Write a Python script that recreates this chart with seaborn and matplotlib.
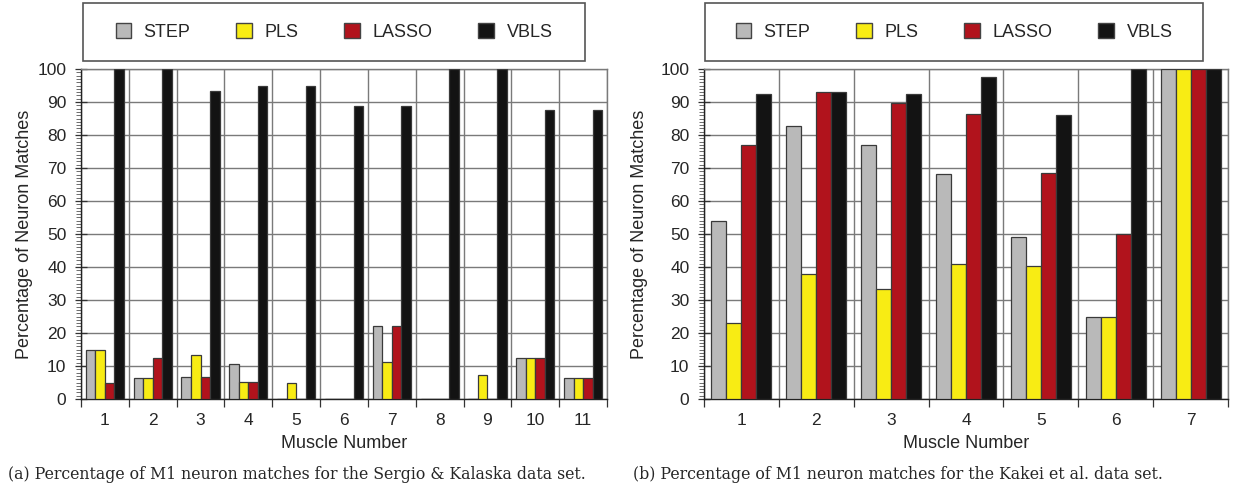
import numpy as np
import pandas as pd
import matplotlib
matplotlib.use("Agg")
import matplotlib.pyplot as plt
import seaborn as sns
from matplotlib.patches import Rectangle, Patch
from matplotlib.ticker import MultipleLocator, FixedLocator

# ---------------- data ----------------
methods = ["STEP", "PLS", "LASSO", "VBLS"]
colors = ["#b9b9b9", "#f8ec14", "#b1131c", "#131313"]

sk_muscles = ["1", "2", "3", "4", "5", "6", "7", "8", "9", "10", "11"]
sk_step = [15.0, 6.25, 6.67, 10.53, 0.0, 0.0, 22.22, 0.0, 0.0, 12.5, 6.25]
sk_pls = [15.0, 6.25, 13.33, 5.26, 5.0, 0.0, 11.11, 0.0, 7.14, 12.5, 6.25]
sk_lasso = [5.0, 12.5, 6.67, 5.26, 0.0, 0.0, 22.22, 0.0, 0.0, 12.5, 6.25]
sk_vbls = [100.0, 100.0, 93.33, 94.74, 95.0, 88.89, 88.89, 100.0, 100.0, 87.5, 87.5]

kk_muscles = ["1", "2", "3", "4", "5", "6", "7"]
kk_step = [53.8, 82.7, 76.9, 68.2, 49.1, 25.0, 100.0]
kk_pls = [23.1, 37.9, 33.3, 40.9, 40.4, 25.0, 100.0]
kk_lasso = [76.9, 93.1, 89.7, 86.4, 68.4, 50.0, 100.0]
kk_vbls = [92.3, 93.1, 92.3, 97.7, 86.0, 100.0, 100.0]

caption_a = "(a) Percentage of M1 neuron matches for the Sergio & Kalaska data set."
caption_b = "(b) Percentage of M1 neuron matches for the Kakei et al. data set."
ylabel = "Percentage of Neuron Matches"
xlabel = "Muscle Number"


def long_df(muscles, step, pls, lasso, vbls):
    rows = []
    for vals, m in zip([step, pls, lasso, vbls], methods):
        for mu, v in zip(muscles, vals):
            rows.append({"muscle": mu, "method": m, "pct": v})
    return pd.DataFrame(rows)


df_a = long_df(sk_muscles, sk_step, sk_pls, sk_lasso, sk_vbls)
df_b = long_df(kk_muscles, kk_step, kk_pls, kk_lasso, kk_vbls)

# ---------------- style ----------------
sns.set_style("white")
plt.rcParams["font.family"] = ["Liberation Sans", "DejaVu Sans"]

W, H = 1234, 488
fig = plt.figure(figsize=(W / 100, H / 100), dpi=100)


def fx(px):
    return px / W


def fy(py):
    return 1 - py / H


def make_panel(df, muscles, left_px, right_px, legend_box, ylab_x_px, caption, cap_x_px):
    top_px, bot_px = 69, 399
    ax = fig.add_axes([fx(left_px), fy(bot_px), (right_px - left_px) / W, (bot_px - top_px) / H])
    sns.barplot(data=df, x="muscle", y="pct", hue="method", order=muscles,
                hue_order=methods, palette=colors, saturation=1, width=0.8,
                edgecolor="#3a3a3a", linewidth=0.9, legend=False, ax=ax, zorder=3)
    n = len(muscles)
    ax.set_xlim(-0.5, n - 0.5)
    ax.set_ylim(0, 100)

    # y ticks
    ax.yaxis.set_major_locator(MultipleLocator(10))
    ax.yaxis.set_minor_locator(MultipleLocator(1))
    ax.tick_params(axis="y", which="major", direction="inout", length=9, width=0.9,
                   labelsize=12.5, pad=6, color="#333333", left=True)
    ax.tick_params(axis="y", which="minor", direction="out", length=3.5, width=0.6,
                   color="#555555", left=True)
    # x ticks: labels at centers, tick marks at boundaries
    ax.set_xticks(range(n))
    ax.set_xticklabels(muscles)
    ax.xaxis.set_minor_locator(FixedLocator(np.arange(-0.5, n, 1.0)))
    ax.tick_params(axis="x", which="major", length=0, labelsize=12.5, pad=10)
    ax.tick_params(axis="x", which="minor", direction="out", length=6, width=0.9,
                   color="#333333", bottom=True)

    ax.grid(True, axis="y", which="major", color="#7a7a7a", linewidth=1.0, zorder=0)
    ax.grid(True, axis="x", which="minor", color="#7a7a7a", linewidth=1.0, zorder=0)
    ax.grid(False, axis="y", which="minor")
    ax.set_axisbelow(True)

    for s in ["top", "right"]:
        ax.spines[s].set_color("#7a7a7a")
        ax.spines[s].set_linewidth(1.0)
    for s in ["left", "bottom"]:
        ax.spines[s].set_color("#222222")
        ax.spines[s].set_linewidth(1.0)

    ax.set_ylabel(ylabel, fontsize=13)
    ax.yaxis.set_label_coords((ylab_x_px - left_px) / (right_px - left_px), 0.5)
    ax.set_xlabel(xlabel, fontsize=13)
    ax.xaxis.set_label_coords(0.5, (bot_px - 435) / (bot_px - top_px))

    # legend box
    lx0, lx1, ly0, ly1 = legend_box
    fig.patches.append(Rectangle((fx(lx0), fy(ly1)), (lx1 - lx0) / W, (ly1 - ly0) / H,
                                 transform=fig.transFigure, facecolor="white",
                                 edgecolor="#555555", linewidth=1.2))
    handles = [Patch(facecolor=c, edgecolor="#444444", linewidth=1.0) for c in colors]
    fig.legend(handles, methods, loc="center",
               bbox_to_anchor=(fx((lx0 + lx1) / 2), fy((ly0 + ly1) / 2)),
               bbox_transform=fig.transFigure, ncol=4, frameon=False,
               fontsize=13, handlelength=0.85, handleheight=0.85,
               handletextpad=0.7, columnspacing=2.55, borderpad=0)

    fig.text(fx(cap_x_px), fy(479), caption, ha="left", va="baseline",
             family=["DejaVu Serif"], fontsize=11.3)
    return ax


make_panel(df_a, sk_muscles, 81, 607, (83, 585, 3, 61), 33, caption_a, 8)
make_panel(df_b, kk_muscles, 704, 1228, (705, 1203, 3, 61), 648, caption_b, 633)

fig.savefig("out.png", dpi=100)
